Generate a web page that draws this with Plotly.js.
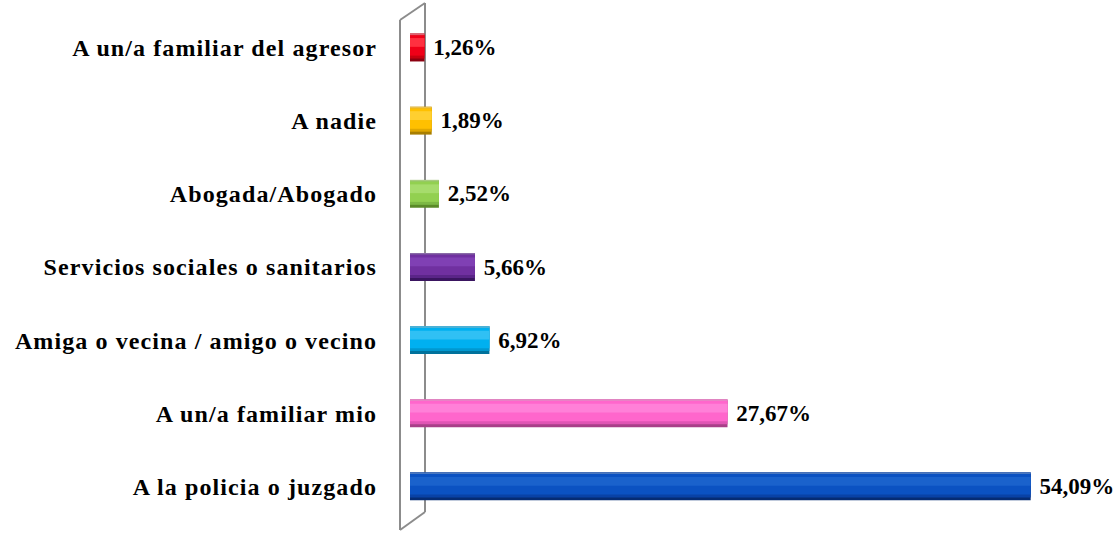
<!DOCTYPE html>
<html>
<head>
<meta charset="utf-8">
<script src="https://cdn.plot.ly/plotly-3.0.1.min.js"></script>
<style>
html,body{margin:0;padding:0;background:#fff;}
#chart{width:1118px;height:533px;}
.ytick text{letter-spacing:1.1px;}
</style>
</head>
<body>
<div id="chart"></div>
<script>
// Data (top to bottom as shown)
const categories = [
  "A un/a familiar del agresor",
  "A nadie",
  "Abogada/Abogado",
  "Servicios sociales o sanitarios",
  "Amiga o vecina / amigo o vecino",
  "A un/a familiar mio",
  "A la policia o juzgado"
];
const values = [1.26, 1.89, 2.52, 5.66, 6.92, 27.67, 54.09];
const valueLabels = values.map(v => ' ' + v.toFixed(2).replace('.', ',') + '%');

// Styling: cylinder shading layers (dark edge, mid-dark, main, light, top edge)
const darkColors  = ['#8c0010', '#a87e00', '#5a8a28', '#3a1560', '#00729c', '#a84088', '#052c74'];
const midColors   = ['#c8000f', '#e0a800', '#7cb844', '#5a2588', '#0098d0', '#e055b4', '#0942a6'];
const mainColors  = ['#f00018', '#ffc000', '#92d050', '#7030a0', '#00b0f0', '#ff66cc', '#0b52c2'];
const lightColors = ['#ff3040', '#ffcf30', '#a6dc6c', '#8040b4', '#30c0f4', '#ff80d8', '#1a62cc'];
const topColors   = ['#e06070', '#e8c050', '#a8cc80', '#8a6aa8', '#60b8d8', '#e890c8', '#4a78c0'];

const font = "'Liberation Serif', 'DejaVu Serif', serif";

const base = {
  type: 'bar', orientation: 'h', y: categories, x: values,
  hoverinfo: 'skip', showlegend: false
};
function layer(colors, width, offset, extra) {
  return Object.assign({}, base, {width: width, offset: offset, marker: {color: colors, line: {width: 0}}}, extra || {});
}

const traces = [
  layer(darkColors, 0.38, -0.19, {
    text: valueLabels,
    textposition: 'outside',
    cliponaxis: false,
    constraintext: 'none',
    textfont: {family: font, size: 23, color: '#000', weight: 'bold'}
  }),
  layer(midColors, 0.34, -0.19),
  layer(mainColors, 0.28, -0.17),
  layer(topColors, 0.02, -0.19),
  layer(lightColors, 0.12, -0.13)
];

const W = 708, L = 410;
const px = x => (x - L) / W;
const T = 11, H = 512;
const py = y => (T + H - y) / H;
const wallColor = '#8c8c8c';

const layout = {
  width: 1118, height: 533,
  margin: {l: 410, r: 0, t: 11, b: 10},
  paper_bgcolor: '#fff', plot_bgcolor: 'rgba(0,0,0,0)',
  barmode: 'overlay',
  hovermode: false,
  xaxis: {range: [0, 61.7], visible: false, fixedrange: true},
  yaxis: {
    autorange: 'reversed', type: 'category',
    showgrid: false, zeroline: false, showline: false,
    ticks: '', ticklabelstandoff: 32,
    tickfont: {family: font, size: 24, color: '#000', weight: 'bold'},
    fixedrange: true
  },
  shapes: [
    {type: 'line', xref: 'paper', yref: 'paper', x0: px(425), x1: px(425), y0: py(3), y1: py(512), line: {color: wallColor, width: 2}, layer: 'below'},
    {type: 'line', xref: 'paper', yref: 'paper', x0: px(400), x1: px(400), y0: py(20), y1: py(530), line: {color: wallColor, width: 2}, layer: 'below'},
    {type: 'line', xref: 'paper', yref: 'paper', x0: px(400), x1: px(425), y0: py(20), y1: py(3), line: {color: wallColor, width: 2}, layer: 'below'},
    {type: 'line', xref: 'paper', yref: 'paper', x0: px(400), x1: px(425), y0: py(530), y1: py(512), line: {color: wallColor, width: 2}, layer: 'below'}
  ]
};

Plotly.newPlot('chart', traces, layout, {displayModeBar: false, staticPlot: true});
</script>
</body>
</html>
